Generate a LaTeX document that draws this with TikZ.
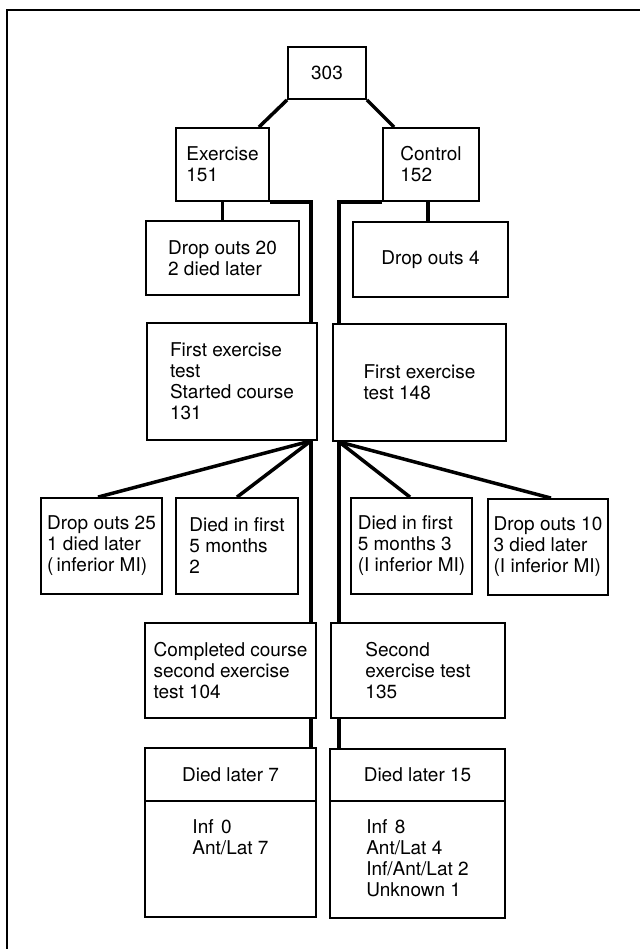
\documentclass[tikz,border=0pt]{standalone}
\usepackage{fontspec}
\setmainfont{TeX Gyre Heros}
\tikzstyle{txt}=[inner sep=0pt, align=left, font=\fontsize{19}{21}\selectfont]
\tikzstyle{box}=[txt, draw, line width=1.8pt]
\tikzstyle{conn}=[line width=3.5pt]

\begin{document}
\begin{tikzpicture}[x=1pt,y=-1pt]
    \useasboundingbox (0,0) rectangle (640,949);
    \draw [line width=2pt] (7,949) -- (7,10) -- (640,10);

    \node (top)    [box, minimum width=78pt,  minimum height=52pt]  at (327,73)      {303};
    \node (exer)   [box, minimum width=93pt,  minimum height=73pt]  at (222.5,164.5) {Exercise\\151};
    \node (ctrl)   [box, minimum width=96pt,  minimum height=73pt]  at (431,164.5)   {Control\\152};
    \node (drop20) [box, minimum width=153pt, minimum height=74pt]  at (222.5,258)   {Drop outs 20\\2 died later};
    \node (drop4)  [box, minimum width=155pt, minimum height=75pt]  at (430.5,259.5) {Drop outs 4};
    \node (ftl)    [box, minimum width=170pt, minimum height=117pt] at (232,381.5)   {First exercise\\test\\Started course\\131};
    \node (ftr)    [box, minimum width=173pt, minimum height=117pt] at (419.5,382.5) {First exercise\\test 148};
    \node (drop25) [box, minimum width=121pt, minimum height=96pt]  at (101.5,546)   {Drop outs 25\\1 died later\\(\,inferior MI)};
    \node (died1)  [box, minimum width=122pt, minimum height=96pt]  at (237,546)     {Died in first\\5 months\\2};
    \node (died2)  [box, minimum width=121pt, minimum height=96pt]  at (411.5,546)   {Died in first\\5 months 3\\(I inferior MI)};
    \node (drop10) [box, minimum width=120pt, minimum height=96pt]  at (548,547)     {Drop outs 10\\3 died later\\(I inferior MI)};
    \node (cc)     [box, minimum width=171pt, minimum height=95pt]  at (230.5,670.5) {Completed course\\second exercise\\test 104};
    \node (set)    [box, minimum width=174pt, minimum height=95pt]  at (418,670.5)   {Second\\exercise test\\135};
    \node (dl7a)   [box, minimum width=171pt, minimum height=53pt]  at (230.5,774.5) {Died later 7};
    \node (dl7b)   [box, minimum width=171pt, minimum height=116pt] at (230.5,859)   {};
    \node (dl15a)  [box, minimum width=175pt, minimum height=52pt]  at (417.5,775)   {Died later 15};
    \node (dl15b)  [box, minimum width=175pt, minimum height=117pt] at (417.5,859.5) {};
    \node (dl7t)   [txt, anchor=north] at ([yshift=-19pt]dl7b.north)  {Inf\hspace{0.4em}0\\Ant/Lat 7};
    \node (dl15t)  [txt, anchor=north] at ([yshift=-19pt]dl15b.north) {Inf\hspace{0.4em}8\\Ant/Lat 4\\Inf/Ant/Lat 2\\Unknown 1};

    \coordinate (lo) at ([xshift=-7pt]ftl.south east);
    \coordinate (ro) at ([xshift=7pt]ftr.south west);

    \draw [conn] (top.south west) -- ([xshift=-11pt]exer.north east);
    \draw [conn] (top.south east) -- ([xshift=12pt]ctrl.north west);
    \draw [conn] (exer.south) -- (exer.south |- drop20.north);
    \draw [conn] ([xshift=-3pt]ctrl.south) -- ([xshift=-3pt]ctrl.south |- drop4.north);
    \draw [conn] (exer.south east) -| ([xshift=-7pt]ftl.north east);
    \draw [conn] (ctrl.south west) -| ([xshift=7pt]ftr.north west);
    \draw [conn] (lo) -- ([xshift=-3.5pt]drop25.north);
    \draw [conn] (lo) -- (died1.north);
    \draw [conn] (lo) -- (lo |- cc.north);
    \draw [conn] (lo |- cc.south) -- (lo |- dl7a.north);
    \draw [conn] (ro) -- ([xshift=-1.5pt]died2.north);
    \draw [conn] (ro) -- ([xshift=3pt]drop10.north);
    \draw [conn] (ro) -- (ro |- set.north);
    \draw [conn] (ro |- set.south) -- (ro |- dl15a.north);
\end{tikzpicture}
\end{document}
